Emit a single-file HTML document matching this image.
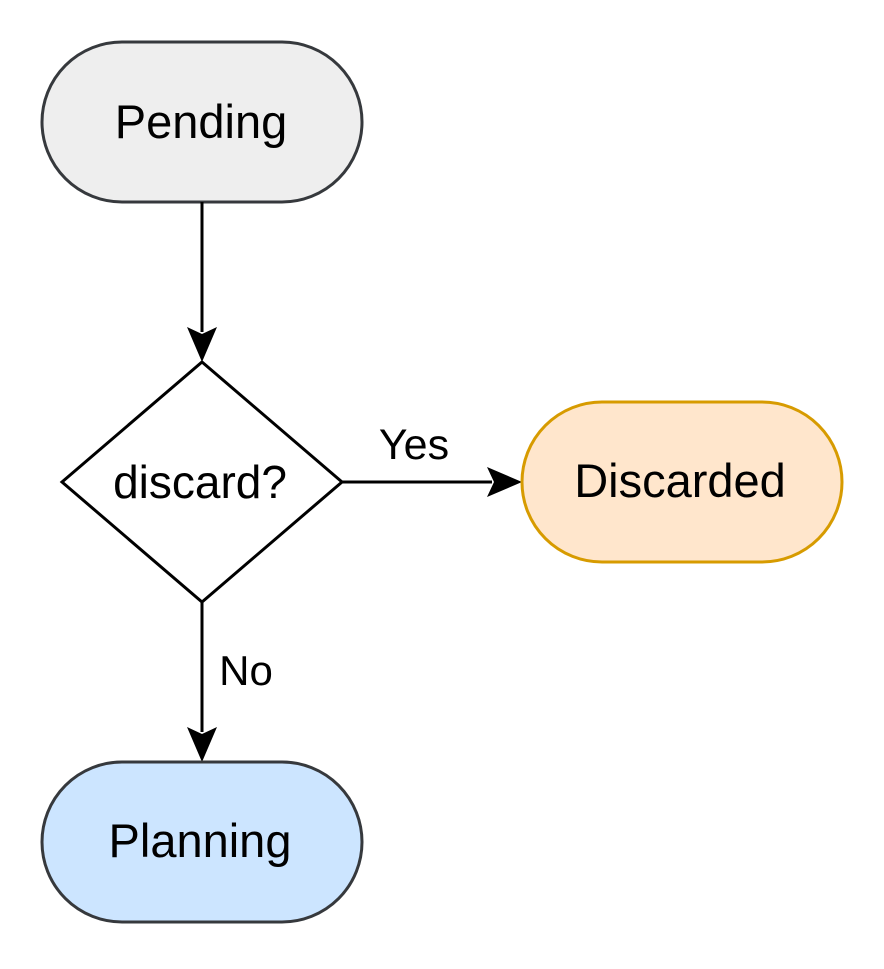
<!DOCTYPE html>
<html><head><style>html,body{margin:0;padding:0;background:#fff}</style></head>
<body>
<svg width="884" height="964" viewBox="0 0 884 964" xmlns="http://www.w3.org/2000/svg" font-family="Liberation Sans, Arial, sans-serif">
<rect x="42" y="42" width="320" height="160" rx="80" fill="#eeeeee" stroke="#36393d" stroke-width="3"/>
<text x="201" y="138" font-size="47" text-anchor="middle">Pending</text>
<line x1="202" y1="202" x2="202" y2="332" stroke="#000" stroke-width="3"/>
<polygon points="202,362 187,327 202,334 217,327" fill="#000"/>
<polygon points="202,362 342,482 202,602 62,482" fill="#fff" stroke="#000" stroke-width="3"/>
<text x="200" y="498" font-size="46" text-anchor="middle">discard?</text>
<line x1="342" y1="482" x2="492" y2="482" stroke="#000" stroke-width="3"/>
<polygon points="522,482 487,467 494,482 487,497" fill="#000"/>
<text x="414" y="459" font-size="43" text-anchor="middle">Yes</text>
<rect x="522" y="402" width="320" height="160" rx="80" fill="#ffe6cc" stroke="#d79b00" stroke-width="3"/>
<text x="680" y="497" font-size="47" text-anchor="middle">Discarded</text>
<line x1="202" y1="602" x2="202" y2="732" stroke="#000" stroke-width="3"/>
<polygon points="202,762 187,727 202,734 217,727" fill="#000"/>
<text x="246" y="685" font-size="42" text-anchor="middle">No</text>
<rect x="42" y="762" width="320" height="160" rx="80" fill="#cce5ff" stroke="#36393d" stroke-width="3"/>
<text x="200" y="857" font-size="47" text-anchor="middle">Planning</text>
</svg>
</body></html>
